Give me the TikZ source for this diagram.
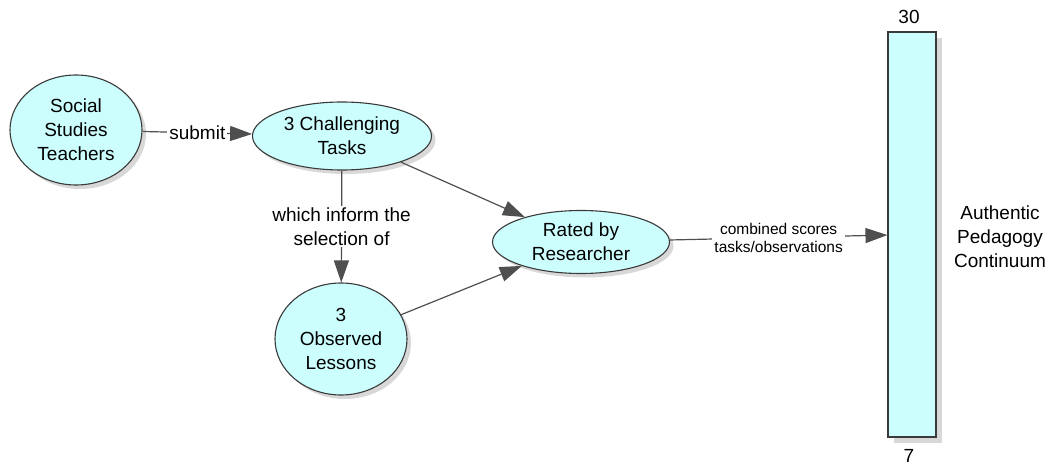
\documentclass[tikz,border=0pt]{standalone}
\usepackage{fontspec}
\setmainfont{Liberation Sans}
\usepackage{tikz}
\usetikzlibrary{arrows.meta,positioning,shapes.geometric,shadows}
\definecolor{cyanfill}{HTML}{CCFEFE}
\definecolor{edgegray}{HTML}{3A3A3A}
\definecolor{arrowgray}{HTML}{4F4F4F}

\begin{document}
\begin{tikzpicture}[x=1pt,y=-1pt,font=\fontsize{19}{24}\selectfont,every node/.style={align=center},
  concept/.style={ellipse,draw=edgegray,line width=1.1pt,fill=cyanfill,inner sep=0pt,
    drop shadow={shadow xshift=4pt,shadow yshift=-4pt,fill=black!30}},
  scalebar/.style={rectangle,draw=edgegray,line width=1.1pt,fill=cyanfill,inner sep=0pt,minimum width=48pt,minimum height=405pt,
    drop shadow={shadow xshift=6pt,shadow yshift=-6pt,fill=black!30}},
  link/.style={draw=arrowgray,line width=1.2pt,-{Triangle[length=22pt,width=15pt]}},
  linklabel/.style={fill=white,inner sep=2pt}]
  \useasboundingbox (0,0) rectangle (1047,465);
  \node[concept,minimum width=132pt,minimum height=110pt] (teachers) at (76,130) {Social\\Studies\\Teachers};
  \node[concept,minimum width=179pt,minimum height=68pt] (tasks) at (342,136) {3 Challenging\\Tasks};
  \node[concept,minimum width=132pt,minimum height=112pt] (lessons) at (341,339) {3\\Observed\\Lessons};
  \node[concept,minimum width=177pt,minimum height=63pt] (rated) at (581,242) {Rated by\\Researcher};
  \node[scalebar] (scale) at (912,234.5) {};
  \node (top) at (909,17) {30};
  \node (bottom) at (909,456) {7};
  \node (continuum) at (1000,237) {Authentic\\Pedagogy\\Continuum};
  \draw[link] (teachers) -- node[linklabel]{submit} (tasks);
  \draw[link] (tasks) -- node[linklabel]{which inform the\\selection of} (lessons);
  \draw[link] (tasks) -- (rated);
  \draw[link] (lessons) -- (rated);
  \draw[link] (rated) -- node[linklabel,font=\fontsize{15.5}{18}\selectfont]{combined scores\\tasks/observations} (scale);
\end{tikzpicture}
\end{document}
